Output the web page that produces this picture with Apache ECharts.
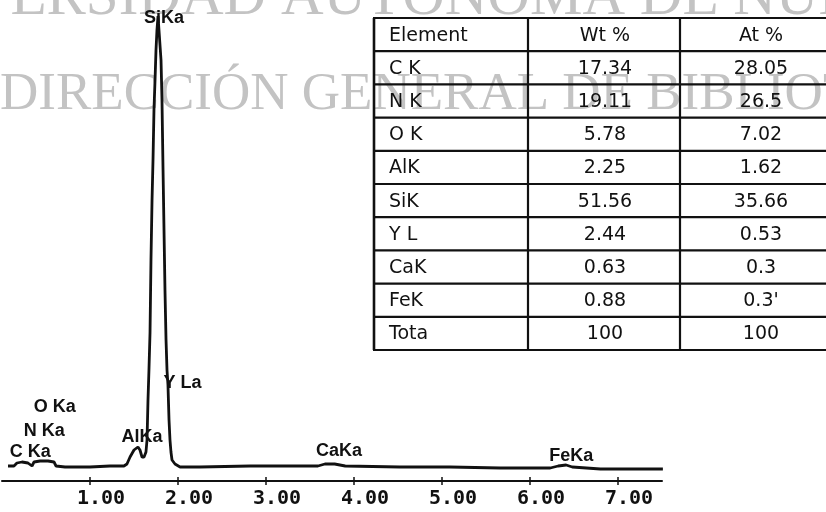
<!DOCTYPE html>
<html>
<head>
<meta charset="utf-8">
<script src="https://cdn.jsdelivr.net/npm/echarts@6/dist/echarts.min.js"></script>
<style>
  html, body { margin: 0; padding: 0; background: #ffffff; }
  #chart { width: 826px; height: 512px; }
</style>
</head>
<body>
<div id="chart"></div>
<script>
// EDS spectrum: energy (keV) and counts
const energyKeV = [
  0.068, 0.136, 0.170, 0.227, 0.295, 0.341, 0.364, 0.432, 0.523, 0.591, 0.614, 0.716,
  1.000, 1.227, 1.386, 1.420, 1.455, 1.500, 1.545, 1.568, 1.591, 1.614, 1.636,
  1.648, 1.659, 1.670, 1.682, 1.693, 1.705, 1.716, 1.727, 1.739, 1.750, 1.761, 1.773,
  1.784, 1.795, 1.807, 1.818, 1.830, 1.841, 1.852, 1.864, 1.875, 1.886, 1.898, 1.909,
  1.920, 1.932, 1.966, 2.023, 2.25, 2.82, 3.39, 3.59, 3.67, 3.78, 3.90, 4.52, 5.09,
  5.66, 6.23, 6.32, 6.41, 6.48, 6.80, 7.25, 7.51
];
const counts = [
  20, 20, 35, 40, 35, 20, 40, 45, 45, 40, 20, 15,
  15, 20, 20, 30, 65, 100, 115, 100, 65, 65, 90,
  150, 350, 500, 685, 1050, 1350, 1550, 1800, 1950, 2100, 2200, 2270,
  2280, 2270, 2050, 1850, 1500, 1200, 900, 650, 500, 425, 250, 150,
  90, 50, 30, 15, 15, 20, 20, 20, 30, 30, 20, 15, 15,
  10, 10, 20, 25, 15, 5, 5, 5
];

// Energy axis tick labels
const tickLabels = ['1.00', '2.00', '3.00', '4.00', '5.00', '6.00', '7.00'];

// Peak identification tags (label text, energy and count level of the tag)
const peakNames = ['SiKa', 'Y La', 'O Ka', 'N Ka', 'C Ka', 'AlKa', 'CaKa', 'FeKa'];
const peakTagKeV = [1.84, 2.05, 0.60, 0.48, 0.32, 1.59, 3.83, 6.47];
const peakTagCounts = [2260, 435, 315, 195, 90, 165, 95, 70];

// Quantification table
const tableHeader = ['Element', 'Wt %', 'At %'];
const elementNames = ['C K', 'N K', 'O K', 'AlK', 'SiK', 'Y L', 'CaK', 'FeK', 'Tota'];
const wtPercent = ['17.34', '19.11', '5.78', '2.25', '51.56', '2.44', '0.63', '0.88', '100'];
const atPercent = ['28.05', '26.5', '7.02', '1.62', '35.66', '0.53', '0.3', '0.3\'', '100'];

const spectrum = energyKeV.map((e, i) => [e, counts[i]]);
const tickValues = tickLabels.map(Number);
const peakTags = peakNames.map((n, i) => [peakTagKeV[i], peakTagCounts[i], n]);

const ink = '#111111';
const graphics = [];

// Background library stamp
graphics.push({
  type: 'text', z: -10, silent: true,
  style: { text: 'UNIVERSIDAD AUTÓNOMA DE NUEVO LEÓN', x: -137, y: -2,
    font: '59px "Liberation Serif"', fill: '#c3c3c3', verticalAlign: 'middle' }
});
graphics.push({
  type: 'text', z: -10, silent: true,
  style: { text: 'DIRECCIÓN GENERAL DE BIBLIOTECAS', x: 0, y: 95,
    font: '53px "Liberation Serif"', fill: '#c3c3c3', verticalAlign: 'middle' }
});

// Table grid
const tLeft = 374, tTop = 18, rowH = 33.2;
const colX = [374, 528, 680, 846];
const nRows = elementNames.length + 1;
for (let r = 0; r <= nRows; r++) {
  const y = tTop + r * rowH;
  graphics.push({ type: 'line', silent: true,
    shape: { x1: tLeft - 1, y1: y, x2: colX[3], y2: y },
    style: { stroke: ink, lineWidth: 2.2 } });
}
colX.slice(0, 3).forEach((x, i) => {
  graphics.push({ type: 'line', silent: true,
    shape: { x1: x, y1: tTop, x2: x, y2: tTop + nRows * rowH },
    style: { stroke: ink, lineWidth: i === 0 ? 2.6 : 2.2 } });
});

const cellFont = '19px "DejaVu Sans"';
function cell(text, r, c) {
  const y = tTop + rowH * (r + 0.5) + 1;
  if (c === 0) {
    graphics.push({ type: 'text', silent: true,
      style: { text, x: 389, y, font: cellFont, fill: ink, verticalAlign: 'middle', align: 'left' } });
  } else {
    const cx = c === 1 ? 605 : 761;
    graphics.push({ type: 'text', silent: true,
      style: { text, x: cx, y, font: cellFont, fill: ink, verticalAlign: 'middle', align: 'center' } });
  }
}
tableHeader.forEach((h, c) => cell(h, 0, c));
elementNames.forEach((n, i) => {
  cell(n, i + 1, 0);
  cell(wtPercent[i], i + 1, 1);
  cell(atPercent[i], i + 1, 2);
});

const chart = echarts.init(document.getElementById('chart'));
const xBase = { type: 'value', min: 0, max: 7.5, position: 'bottom', splitLine: { show: false } };
chart.setOption({
  backgroundColor: '#ffffff',
  animation: false,
  grid: { left: 2, right: 164, top: 10, bottom: 31 },
  xAxis: [
    Object.assign({}, xBase, {
      axisLine: { show: true, onZero: false, lineStyle: { color: ink, width: 2 } },
      axisTick: { show: true, customValues: tickValues, length: 4, lineStyle: { color: ink, width: 1.5 } },
      axisLabel: {
        show: true, customValues: tickValues, margin: 8,
        formatter: v => tickLabels[tickValues.indexOf(v)] || '',
        color: ink, fontFamily: '"DejaVu Sans Mono"', fontWeight: 'bold', fontSize: 20,
        padding: [0, 0, 0, 22]
      }
    }),
    Object.assign({}, xBase, {
      axisLine: { show: false, onZero: false },
      axisTick: { show: true, inside: true, customValues: tickValues, length: 4, lineStyle: { color: ink, width: 1.5 } },
      axisLabel: { show: false }
    })
  ],
  yAxis: { type: 'value', min: -55, max: 2300, show: false },
  series: [
    {
      type: 'line', xAxisIndex: 0, data: spectrum, showSymbol: false, silent: true,
      lineStyle: { color: ink, width: 2.8 }
    },
    {
      type: 'scatter', xAxisIndex: 0, data: peakTags, symbolSize: 0, silent: true, z: 5,
      itemStyle: { opacity: 1 },
      label: {
        show: true, position: 'inside', formatter: p => p.data[2],
        color: ink, fontFamily: '"Liberation Sans"', fontWeight: 'bold', fontSize: 18
      }
    }
  ],
  graphic: graphics
});
</script>
</body>
</html>
